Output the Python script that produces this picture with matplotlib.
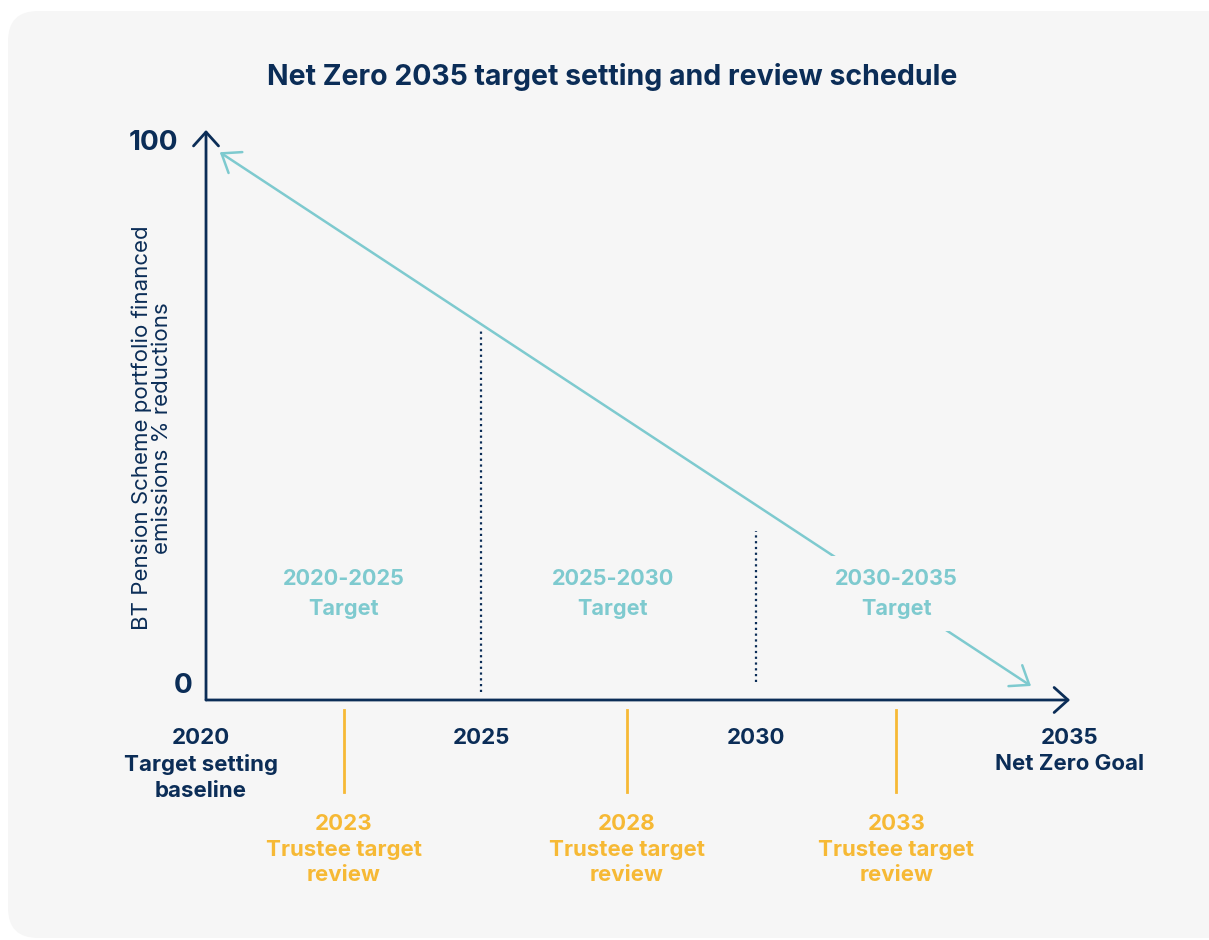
import matplotlib.pyplot as plt
from matplotlib.patches import FancyBboxPatch

# chart content
title = "Net Zero 2035 target setting and review schedule"
y_label = "BT Pension Scheme portfolio financed\nemissions % reductions"
y_ticks = [0, 100]

path_years = [2020.25, 2035]
path_values = [98.3, 0]

checkpoint_years = [2025, 2030]
checkpoint_tops = [65.6, 28.5]
checkpoint_bottoms = [-1.1, 0.7]

milestone_x = [2019.9, 2025, 2030, 2035.7]
milestone_labels = ["2020\nTarget setting\nbaseline", "2025", "2030",
                    "2035\nNet Zero Goal"]

review_x = [2022.5, 2027.65, 2032.55]
review_labels = ["2023\nTrustee target\nreview",
                 "2028\nTrustee target\nreview",
                 "2033\nTrustee target\nreview"]

period_x = [2022.5, 2027.4, 2032.55]
period_labels = ["2020-2025\nTarget", "2025-2030\nTarget", "2030-2035\nTarget"]

NAVY = "#0b2d57"
TEAL = "#7ecacf"
ORANGE = "#f6b935"
BG = "#f6f6f6"
FONT = "Inter"

fig = plt.figure(figsize=(12.09, 9.40), dpi=100)
fig.patch.set_facecolor("white")

# rounded background panel in pixel coords
bg = fig.add_axes([0, 0, 1, 1])
bg.set_xlim(0, 1209)
bg.set_ylim(940, 0)
bg.axis("off")
bg.add_patch(FancyBboxPatch((8, 11), 1230, 927,
                            boxstyle="round,pad=0,rounding_size=30",
                            facecolor=BG, edgecolor="none"))
bg.text(612, 77, title, ha="center", va="center", fontsize=20.5,
        fontweight="bold", color=NAVY, family=FONT)

ax = fig.add_axes([0.1704, 0.2529, 0.7279, 0.6123])
ax.set_xlim(2020, 2036)
ax.set_ylim(-3, 103)
ax.axis("off")
ax.patch.set_alpha(0)

# axes with open arrow heads
axis_y = -2.58
ax.annotate("", xy=(2035.71, axis_y), xytext=(2020, axis_y),
            arrowprops=dict(arrowstyle="->,head_length=0.5,head_width=0.45",
                            color=NAVY, lw=2, shrinkA=0, shrinkB=0,
                            mutation_scale=20), annotation_clip=False)
ax.annotate("", xy=(2020, 102.4), xytext=(2020, axis_y),
            arrowprops=dict(arrowstyle="->,head_length=0.5,head_width=0.45",
                            color=NAVY, lw=2, shrinkA=0, shrinkB=0,
                            mutation_scale=20), annotation_clip=False)

for v, tx in zip(y_ticks, [2019.75, 2019.49]):
    ax.text(tx, v, str(v), ha="right", va="center", fontsize=20,
            fontweight="bold", color=NAVY, family=FONT)

ax.text(2019.02, 47.5, y_label, rotation=90, ha="center", va="center",
        fontsize=16, color=NAVY, family=FONT, linespacing=1.0)

# trajectory
ax.annotate("", xy=(path_years[1], path_values[1]),
            xytext=(path_years[0], path_values[0]),
            arrowprops=dict(arrowstyle="<->,head_length=0.6,head_width=0.45",
                            color=TEAL, lw=1.8, shrinkA=0, shrinkB=0,
                            mutation_scale=20), annotation_clip=False)

for x, top, bot in zip(checkpoint_years, checkpoint_tops, checkpoint_bottoms):
    ax.plot([x, x], [bot, top], color=NAVY, lw=1.6,
            linestyle=(0, (1, 1.6)), clip_on=False)

for x, lab in zip(period_x, period_labels):
    ax.text(x, 17.0, lab, ha="center", va="center", fontsize=15.6,
            fontweight="bold", color=TEAL, family=FONT, linespacing=1.64,
            bbox=dict(facecolor=BG, edgecolor="none", pad=9))

for x, lab in zip(milestone_x, milestone_labels):
    ax.text(x, -7.75, lab, ha="center", va="top", fontsize=16,
            fontweight="bold", color=NAVY, family=FONT, linespacing=1.35)

for x, lab in zip(review_x, review_labels):
    ax.plot([x, x], [-4.4, -19.5], color=ORANGE, lw=2, clip_on=False)
    ax.text(x, -23.6, lab, ha="center", va="top", fontsize=16,
            fontweight="bold", color=ORANGE, family=FONT, linespacing=1.35)

fig.savefig("out.png", dpi=100, facecolor="white")
